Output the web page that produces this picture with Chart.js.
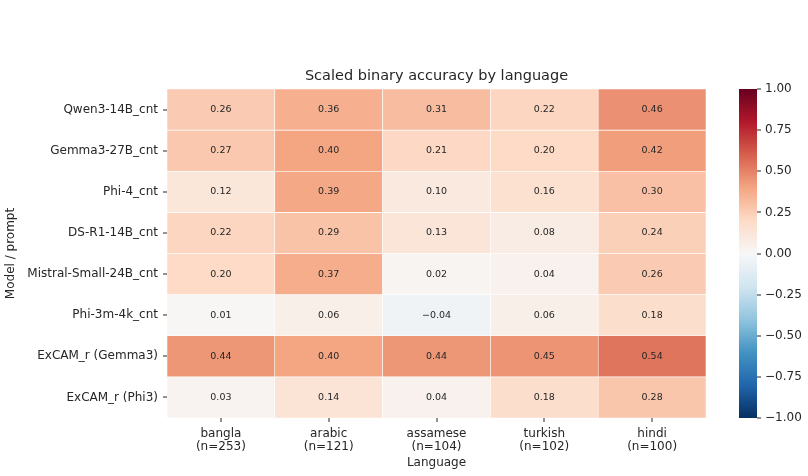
<!DOCTYPE html>
<html>
<head>
<meta charset="utf-8">
<script src="https://cdn.jsdelivr.net/npm/chart.js@4.4.1/dist/chart.umd.min.js"></script>
<style>
  body { margin: 0; background: #fff; }
  #wrap { position: relative; width: 808px; height: 476px; }
  #main { position: absolute; left: 0; top: 0; }
  #cbar { position: absolute; left: 720px; top: 0; }
</style>
</head>
<body>
<div id="wrap">
  <canvas id="main" width="808" height="476"></canvas>
  <canvas id="cbar" width="88" height="476"></canvas>
</div>
<script>
const models = ['Qwen3-14B_cnt', 'Gemma3-27B_cnt', 'Phi-4_cnt', 'DS-R1-14B_cnt',
  'Mistral-Small-24B_cnt', 'Phi-3m-4k_cnt', 'ExCAM_r (Gemma3)', 'ExCAM_r (Phi3)'];
const languages = [['bangla', '(n=253)'], ['arabic', '(n=121)'], ['assamese', '(n=104)'],
  ['turkish', '(n=102)'], ['hindi', '(n=100)']];

// values per language, one per model (same order as models)
const bangla   = [0.26, 0.27, 0.12, 0.22, 0.20, 0.01, 0.44, 0.03];
const arabic   = [0.36, 0.40, 0.39, 0.29, 0.37, 0.06, 0.40, 0.14];
const assamese = [0.31, 0.21, 0.10, 0.13, 0.02, -0.04, 0.44, 0.04];
const turkish  = [0.22, 0.20, 0.16, 0.08, 0.04, 0.06, 0.45, 0.18];
const hindi    = [0.46, 0.42, 0.30, 0.24, 0.26, 0.18, 0.54, 0.28];

const cbarTicks = [-1, -0.75, -0.5, -0.25, 0, 0.25, 0.5, 0.75, 1];

const columns = [bangla, arabic, assamese, turkish, hindi];

// RdBu_r
const rdbu = ['#053061', '#2166ac', '#4393c3', '#92c5de', '#d1e5f0', '#f7f7f7',
  '#fddbc7', '#f4a582', '#d6604d', '#b2182b', '#67001f'];

function hexRgb(h) {
  return [parseInt(h.slice(1, 3), 16), parseInt(h.slice(3, 5), 16), parseInt(h.slice(5, 7), 16)];
}
function cmap(v) {
  let t = (v + 1) / 2;
  t = Math.max(0, Math.min(1, t)) * (rdbu.length - 1);
  const i = Math.min(Math.floor(t), rdbu.length - 2);
  const f = t - i;
  const a = hexRgb(rdbu[i]), b = hexRgb(rdbu[i + 1]);
  const c = a.map((x, k) => Math.round(x + (b[k] - x) * f));
  return `rgb(${c[0]},${c[1]},${c[2]})`;
}

const textCol = '#262626';
const font = 'DejaVu Sans';
const fmt = v => v.toFixed(2).replace('-', '\u2212');

const datasets = models.map((m, r) => ({
  label: m,
  data: columns.map(() => 1),
  values: columns.map(col => col[r]),
  backgroundColor: columns.map(col => cmap(col[r])),
  borderColor: '#ffffff',
  borderWidth: 0.6,
  borderSkipped: false,
  barPercentage: 1,
  categoryPercentage: 1
}));

// small tick marks, placed from the scale positions
function drawTickMarks(chart, axisId, len) {
  const s = chart.scales[axisId];
  const ctx = chart.ctx;
  ctx.save();
  ctx.fillStyle = textCol;
  for (let i = 0; i < s.ticks.length; i++) {
    const p = Math.round(s.getPixelForTick(i));
    if (s.isHorizontal()) {
      ctx.fillRect(p - 0.5, s.top, 1, len);
    } else if (s.position === 'left') {
      ctx.fillRect(s.right - len, p - 0.5, len, 1);
    } else {
      ctx.fillRect(s.left, p - 0.5, len, 1);
    }
  }
  ctx.restore();
}

const cellText = {
  id: 'cellText',
  afterDraw(chart) {
    const ctx = chart.ctx;
    ctx.save();
    ctx.font = `9.5px "${font}"`;
    ctx.fillStyle = textCol;
    ctx.textAlign = 'center';
    ctx.textBaseline = 'middle';
    chart.data.datasets.forEach((ds, i) => {
      chart.getDatasetMeta(i).data.forEach((bar, j) => {
        const p = bar.getProps(['x', 'y', 'base'], true);
        ctx.fillText(fmt(ds.values[j]), p.x, (p.y + p.base) / 2);
      });
    });
    // title, centred over the heatmap
    const a = chart.chartArea;
    ctx.font = `14.5px "${font}"`;
    ctx.fillText('Scaled binary accuracy by language', (a.left + a.right) / 2, 76);
    ctx.restore();
    drawTickMarks(chart, 'x', 4);
    drawTickMarks(chart, 'y', 4);
  }
};

new Chart(document.getElementById('main'), {
  type: 'bar',
  data: { labels: languages, datasets: datasets },
  options: {
    responsive: false,
    animation: false,
    layout: { padding: { left: 0, right: 102, top: 89, bottom: 0 } },
    plugins: {
      legend: { display: false },
      tooltip: { enabled: false },
      title: { display: false }
    },
    scales: {
      x: {
        stacked: true,
        grid: { display: false, drawTicks: false },
        border: { display: false },
        ticks: { color: textCol, font: { family: font, size: 12, lineHeight: 1.1 }, padding: 9, maxRotation: 0 },
        title: { display: true, text: 'Language', color: textCol, font: { family: font, size: 12 }, padding: { top: 0, bottom: 6 } },
        afterFit(s) { s.height = 58; }
      },
      y: {
        stacked: true,
        reverse: true,
        min: 0,
        max: models.length,
        afterBuildTicks(s) { s.ticks = models.map((m, i) => ({ value: i + 0.5 })); },
        grid: { display: false, drawTicks: false },
        border: { display: false },
        ticks: {
          color: textCol,
          font: { family: font, size: 12 },
          padding: 9,
          callback: v => models[Math.floor(v)]
        },
        title: { display: true, text: 'Model / prompt', color: textCol, font: { family: font, size: 12 }, padding: { top: 4, bottom: 0 } },
        afterFit(s) { s.width = 167; }
      }
    }
  },
  plugins: [cellText]
});

new Chart(document.getElementById('cbar'), {
  type: 'bar',
  data: {
    labels: [''],
    datasets: [{
      data: [[-1, 1]],
      backgroundColor(c) {
        const area = c.chart.chartArea;
        if (!area) return '#fff';
        const g = c.chart.ctx.createLinearGradient(0, area.bottom, 0, area.top);
        rdbu.forEach((col, i) => g.addColorStop(i / (rdbu.length - 1), col));
        return g;
      },
      borderWidth: 0,
      barPercentage: 1,
      categoryPercentage: 1
    }]
  },
  options: {
    responsive: false,
    animation: false,
    layout: { padding: { left: 19, right: 0, top: 89, bottom: 0 } },
    plugins: { legend: { display: false }, tooltip: { enabled: false } },
    scales: {
      x: { display: false, afterFit(s) { s.height = 58; } },
      y: {
        position: 'right',
        min: -1,
        max: 1,
        afterBuildTicks(s) { s.ticks = cbarTicks.map(v => ({ value: v })); },
        grid: { display: false, drawTicks: false },
        border: { display: false },
        ticks: {
          color: textCol,
          font: { family: font, size: 12 },
          padding: 8,
          callback: v => fmt(v)
        },
        afterFit(s) { s.width = 51; }
      }
    }
  },
  plugins: [{
    id: 'cbarTicks',
    afterDraw(chart) { drawTickMarks(chart, 'y', 4); }
  }]
});
</script>
</body>
</html>
